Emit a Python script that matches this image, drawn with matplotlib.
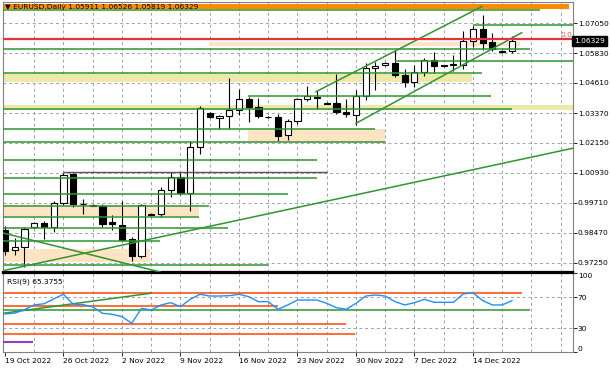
import matplotlib
matplotlib.use("Agg")
import matplotlib.pyplot as plt
import matplotlib.transforms as mtrans
from matplotlib.patches import Rectangle

# EURUSD daily bars (broker feed has short sunday sessions), 19 Oct - 19 Dec 2022
opens = [0.9860, 0.9777, 0.9789, 0.9871, 0.9888, 0.9871, 0.9968, 1.0087, 0.9964, 0.9960,
         0.9957, 0.9892, 0.9879, 0.9822, 0.9752, 0.9925, 0.9925, 1.0021, 1.0074, 1.0012,
         1.0199, 1.0338, 1.0318, 1.0326, 1.0350, 1.0395, 1.0364, 1.0322, 1.0323, 1.0246,
         1.0304, 1.0395, 1.0405, 1.0378, 1.0378, 1.0343, 1.0329, 1.0407, 1.0521, 1.0534,
         1.0541, 1.0493, 1.0466, 1.0507, 1.0556, 1.0530, 1.0533, 1.0536, 1.0632, 1.0680,
         1.0627, 1.0587, 1.05911]
highs = [0.9876, 0.9826, 0.9870, 0.9892, 0.9894, 0.9978, 1.0093, 1.0091, 0.9985, 0.9964,
         0.9965, 0.9919, 0.9977, 0.9830, 0.9965, 0.9930, 1.0036, 1.0096, 1.0094, 1.0222,
         1.0365, 1.0342, 1.0330, 1.0480, 1.0437, 1.0403, 1.0398, 1.0325, 1.0332, 1.0313,
         1.0399, 1.0450, 1.0430, 1.0381, 1.0497, 1.0395, 1.0430, 1.0544, 1.0546, 1.0546,
         1.0595, 1.0519, 1.0534, 1.0562, 1.0588, 1.0534, 1.0575, 1.0673, 1.0695, 1.0737,
         1.0666, 1.0594, 1.06526]
lows = [0.9756, 0.9756, 0.9706, 0.9866, 0.9820, 0.9850, 0.9960, 0.9952, 0.9925, 0.9955,
        0.9872, 0.9859, 0.9815, 0.9732, 0.9745, 0.9915, 0.9912, 0.9993, 1.0004, 0.9935,
        1.0170, 1.0318, 1.0272, 1.0272, 1.0330, 1.0300, 1.0318, 1.0318, 1.0223, 1.0226,
        1.0294, 1.0385, 1.0356, 1.0374, 1.0335, 1.0323, 1.0290, 1.0393, 1.0430, 1.0532,
        1.0484, 1.0445, 1.0443, 1.0489, 1.0503, 1.0527, 1.0511, 1.0518, 1.0608, 1.0595,
        1.0590, 1.0584, 1.05819]
closes = [0.9774, 0.9789, 0.9862, 0.9888, 0.9871, 0.9970, 1.0082, 0.9966, 0.9966, 0.9957,
          0.9884, 0.9882, 0.9819, 0.9752, 0.9960, 0.9920, 1.0021, 1.0074, 1.0012, 1.0199,
          1.0360, 1.0320, 1.0326, 1.0350, 1.0395, 1.0363, 1.0325, 1.0320, 1.0244, 1.0304,
          1.0395, 1.0409, 1.0400, 1.0376, 1.0343, 1.0332, 1.0407, 1.0521, 1.0530, 1.0543,
          1.0493, 1.0466, 1.0507, 1.0555, 1.0530, 1.0533, 1.0537, 1.0632, 1.0680, 1.0625,
          1.0598, 1.0592, 1.06329]
rsi9 = [48.4, 49.5, 54.0, 60.0, 61.4, 67.6, 73.5, 60.8, 60.4, 57.5,
        49.3, 48.0, 45.0, 36.5, 55.6, 53.5, 59.9, 62.8, 57.7, 67.1,
        73.5, 71.3, 71.3, 71.7, 73.5, 70.5, 64.1, 64.1, 54.4, 59.9,
        66.2, 66.2, 66.2, 62.0, 56.4, 54.4, 62.0, 71.3, 72.6, 71.3,
        64.1, 59.9, 62.8, 67.1, 63.3, 63.3, 63.3, 73.9, 75.5, 65.4,
        59.9, 59.9, 65.38]

date_bars = [0, 6, 12, 18, 24, 30, 36, 42, 48]
date_labels = ["19 Oct 2022", "26 Oct 2022", "2 Nov 2022", "9 Nov 2022", "16 Nov 2022",
               "23 Nov 2022", "30 Nov 2022", "7 Dec 2022", "14 Dec 2022"]
price_ticks = [1.07050, 1.05830, 1.04610, 1.03370, 1.02150, 1.00930, 0.99710, 0.98470, 0.97250]
rsi_ticks = [0, 30, 70, 100]

# analyst objects: (price, first bar, last bar)
green_levels = [(1.07595, -0.2, 54.9), (1.0700, 48.0, 59), (1.0600, -0.2, 53.9),
                (1.0551, 40.0, 59), (1.0500, -0.2, 48.9), (1.0409, 24.9, 49.9),
                (1.0353, -0.2, 52.0), (1.0272, -0.2, 38.0), (1.0220, -0.2, 39.0),
                (1.0147, -0.2, 32.0), (1.0073, -0.2, 32.0), (1.0005, -0.2, 29.0),
                (0.9957, -0.2, 20.9), (0.9913, -0.2, 19.9), (0.9867, -0.2, 22.9),
                (0.9814, -0.2, 15.9), (0.97135, -0.2, 27.0)]
gray_levels = [(1.0095, 6.0, 33.0)]
fib_zero = 1.0640
# (low, high, first bar, last bar)
orange_bands = [(1.0762, 1.0784, -0.2, 57.9)]
peach_zones = [(1.0612, 1.0630, 20.9, 52.8), (1.0220, 1.0271, 24.9, 39.0),
               (0.9915, 0.9955, -0.2, 19.9), (0.9729, 0.9781, -0.2, 14.9)]
khaki_zones = [(1.0465, 1.0497, -0.2, 47.9), (1.0350, 1.03705, -0.2, 59)]
trendlines = [((-0.2, 0.9692), (58.3, 1.0194)), ((-0.2, 0.98465), (15.9, 0.9687)),
              ((31.9, 1.0425), (48.92, 1.07738)), ((36.0, 1.02956), (53.0, 1.06665))]

rsi_red_levels = [(75.5, -0.2, 53.0), (58.6, -0.2, 28.0), (35.7, -0.2, 35.0), (22.5, -0.2, 35.9)]
rsi_green_levels = [(53.5, -0.2, 53.8)]
rsi_purple_levels = [(13.1, -0.2, 2.9)]
rsi_trend = ((-0.2, 49.3), (14.94, 74.8))

GREEN = "#2f962f"
GRID = "#9aa2b2"
FS = 5.4

fig = plt.figure(figsize=(6.1, 3.69), dpi=100)
ax = fig.add_axes([3 / 610, 97 / 369, 570 / 610, 270 / 369])
rs = fig.add_axes([3 / 610, 17 / 369, 570 / 610, 79 / 369], sharex=ax)

n = len(closes)
ax.set_xlim(-0.205, 58.26)
ax.set_ylim(0.96868, 1.07922)
rs.set_ylim(0, 100.6)

# grid
for b in range(3, 58, 3):
    ax.axvline(b, color=GRID, lw=0.7, ls=(0, (3, 3)), zorder=0.5)
    rs.axvline(b, color=GRID, lw=0.7, ls=(0, (3, 3)), zorder=0.5)
for p in price_ticks:
    ax.axhline(p, color=GRID, lw=0.7, ls=(0, (3, 3)), zorder=0.5)
for v in (30, 70):
    rs.axhline(v, color=GRID, lw=0.7, ls=(0, (3, 3)), zorder=0.5)

# zones
for lo, hi, b0, b1 in orange_bands:
    ax.add_patch(Rectangle((b0, lo), b1 - b0, hi - lo, color="#ff8c00", lw=0, zorder=1))
for lo, hi, b0, b1 in peach_zones:
    ax.add_patch(Rectangle((b0, lo), b1 - b0, hi - lo, color="#ffe4c4", lw=0, zorder=1))
for lo, hi, b0, b1 in khaki_zones:
    ax.add_patch(Rectangle((b0, lo), b1 - b0, hi - lo, color="#eee8aa", lw=0, zorder=1))

# candles
ax.vlines(range(n), lows, highs, color="black", lw=0.8, zorder=3)
for i in range(n):
    o, c = opens[i], closes[i]
    fc = "white" if c >= o else "black"
    h = max(abs(c - o), 0.00003)
    ax.bar(i, h, bottom=min(o, c), width=0.62, color=fc, edgecolor="black", lw=0.8, zorder=3.5)

# drawn objects
for p, b0, b1 in green_levels:
    ax.hlines(p, b0, b1, color=GREEN, lw=1.1, zorder=4)
for p, b0, b1 in gray_levels:
    ax.hlines(p, b0, b1, color="#555555", lw=1.0, zorder=4)
for (b0, p0), (b1, p1) in trendlines:
    ax.plot([b0, b1], [p0, p1], color=GREEN, lw=1.1, zorder=4)
ax.axhline(fib_zero, color="#e8333a", lw=1.6, zorder=4)
ax.text(57.0, fib_zero + 0.0006, "0.0", color="#c86060", fontsize=FS, va="bottom", zorder=5)

ax.text(0.0035, 0.981, "\u25bc EURUSD,Daily 1.05911 1.06526 1.05819 1.06329", transform=ax.transAxes,
        fontsize=FS, va="center", ha="left", color="black", zorder=6)

# price axis
ax.yaxis.tick_right()
ax.set_yticks(price_ticks)
ax.set_yticklabels(["%.5f" % p for p in price_ticks])
ax.tick_params(axis="y", labelsize=FS, length=3, width=0.6, pad=0.5, colors="black")
ax.tick_params(axis="x", bottom=False, labelbottom=False)
tr = mtrans.blended_transform_factory(ax.transAxes, ax.transData)
ax.text(1.002, closes[-1], "%.5f" % closes[-1], transform=tr, fontsize=FS, color="white",
        va="center", ha="left", zorder=6, clip_on=False,
        bbox=dict(boxstyle="square,pad=0.25", fc="black", ec="black"))

for s in ("left", "top", "right"):
    ax.spines[s].set_color("#808080")
    ax.spines[s].set_linewidth(0.8)
ax.spines["bottom"].set_color("black")
ax.spines["bottom"].set_linewidth(1.6)

# RSI panel
rs.plot(range(n), rsi9, color="#1e90ff", lw=1.0, zorder=4)
for v, b0, b1 in rsi_red_levels:
    rs.hlines(v, b0, b1, color="#ff4500", lw=1.1, zorder=3)
for v, b0, b1 in rsi_green_levels:
    rs.hlines(v, b0, b1, color=GREEN, lw=1.1, zorder=3)
for v, b0, b1 in rsi_purple_levels:
    rs.hlines(v, b0, b1, color="#9932cc", lw=1.4, zorder=3)
(b0, v0), (b1, v1) = rsi_trend
rs.plot([b0, b1], [v0, v1], color=GREEN, lw=1.1, zorder=3)
rs.text(0.007, 0.89, "RSI(9) 65.3755", transform=rs.transAxes, fontsize=FS, va="center", ha="left")

rs.yaxis.tick_right()
rs.set_yticks(rsi_ticks)
rs.set_yticklabels([str(v) for v in rsi_ticks])
rs.tick_params(axis="y", labelsize=FS, length=3, width=0.6, pad=0.5)
for lab in rs.get_yticklabels():
    if lab.get_text() == "100":
        lab.set_va("top")
    elif lab.get_text() == "0":
        lab.set_va("bottom")

rs.set_xticks(date_bars)
rs.set_xticklabels(date_labels, ha="left")
rs.tick_params(axis="x", labelsize=FS, length=3, width=0.6, pad=1)
for s in ("left", "right", "bottom"):
    rs.spines[s].set_color("#808080")
    rs.spines[s].set_linewidth(0.8)
rs.spines["top"].set_color("black")
rs.spines["top"].set_linewidth(1.6)

fig.savefig("out.png", dpi=100, facecolor="white")
